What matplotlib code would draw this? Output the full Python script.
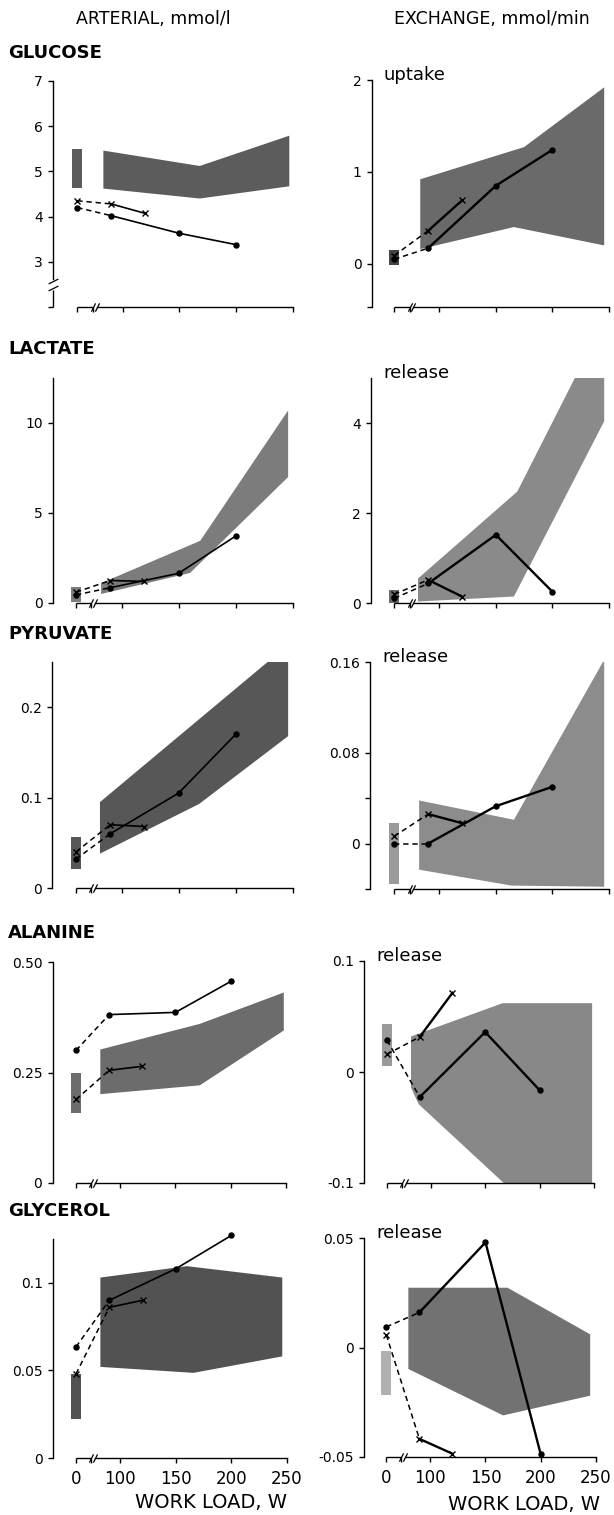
import matplotlib
matplotlib.use("Agg")
import matplotlib.pyplot as plt

plt.rcParams['font.family'] = ['DejaVu Sans']

W_PX, H_PX = 614, 1515

# work loads (W); the resting value (0 W) sits on the broken part of the axis
loads_dot = [0, 90, 150, 200]
loads_cross = [0, 90, 120]
x_ticks = [0, 100, 150, 200, 250]

# ---------------- data ----------------
# rest range (lo, hi), band upper / lower edges as (W, value), dot series, cross series
glucose_art_rest = (4.63, 5.50)
glucose_art_upper = [(83, 5.46), (168, 5.12), (247, 5.79)]
glucose_art_lower = [(83, 4.62), (168, 4.40), (247, 4.67)]
glucose_art_dot = [4.20, 4.02, 3.63, 3.38]
glucose_art_cross = [4.35, 4.28, 4.07]

glucose_ex_rest = (-0.01, 0.15)
glucose_ex_upper = [(83, 0.92), (175, 1.27), (246, 1.92)]
glucose_ex_lower = [(83, 0.16), (166, 0.40), (246, 0.20)]
glucose_ex_dot = [0.05, 0.17, 0.85, 1.24]
glucose_ex_cross = [0.09, 0.36, 0.69]

lactate_art_rest = (0.07, 0.90)
lactate_art_upper = [(82, 1.1), (169, 3.46), (246, 10.7)]
lactate_art_lower = [(82, 0.5), (160, 1.67), (246, 7.0)]
lactate_art_dot = [0.45, 0.85, 1.65, 3.72]
lactate_art_cross = [0.6, 1.25, 1.2]

lactate_ex_rest = (0.0, 0.30)
lactate_ex_upper = [(81, 0.55), (169, 2.48), (220, 5.0), (246, 5.0)]
lactate_ex_lower = [(81, 0.04), (166, 0.15), (246, 4.04)]
lactate_ex_dot = [0.11, 0.44, 1.52, 0.26]
lactate_ex_cross = [0.20, 0.52, 0.15]

pyruvate_art_rest = (0.021, 0.056)
pyruvate_art_upper = [(81, 0.095), (246, 0.269)]
pyruvate_art_lower = [(81, 0.038), (168, 0.093), (246, 0.168)]
pyruvate_art_dot = [0.032, 0.060, 0.105, 0.170]
pyruvate_art_cross = [0.040, 0.070, 0.068]

pyruvate_ex_rest = (-0.036, 0.018)
pyruvate_ex_upper = [(82, 0.038), (166, 0.021), (246, 0.162)]
pyruvate_ex_lower = [(82, -0.023), (164, -0.037), (246, -0.038)]
pyruvate_ex_dot = [0.0, 0.0, 0.033, 0.050]
pyruvate_ex_cross = [0.0065, 0.026, 0.018]

alanine_art_rest = (0.158, 0.249)
alanine_art_upper = [(82, 0.302), (172, 0.36), (248, 0.431)]
alanine_art_lower = [(82, 0.201), (172, 0.221), (248, 0.345)]
alanine_art_dot = [0.300, 0.381, 0.386, 0.456]
alanine_art_cross = [0.189, 0.255, 0.264]

alanine_ex_rest = (0.005, 0.043)
alanine_ex_upper = [(82, 0.032), (166, 0.062), (248, 0.062)]
alanine_ex_lower = [(82, -0.014), (89, -0.029), (167, -0.1), (248, -0.1)]
alanine_ex_dot = [0.0286, -0.0226, 0.036, -0.0165]
alanine_ex_cross = [0.016, 0.0316, 0.0713]

glycerol_art_rest = (0.0225, 0.048)
glycerol_art_upper = [(82, 0.103), (160, 0.1095), (246, 0.103)]
glycerol_art_lower = [(82, 0.052), (166, 0.0486), (246, 0.058)]
glycerol_art_dot = [0.0634, 0.090, 0.108, 0.127]
glycerol_art_cross = [0.048, 0.086, 0.090]

glycerol_ex_rest = (-0.0215, -0.0015)
glycerol_ex_upper = [(80, 0.0273), (170, 0.0273), (245, 0.006)]
glycerol_ex_lower = [(80, -0.0098), (166, -0.031), (245, -0.022)]
glycerol_ex_dot = [0.0094, 0.016, 0.048, -0.0485]
glycerol_ex_cross = [0.0058, -0.0417, -0.0485]

row_names = ['GLUCOSE', 'LACTATE', 'PYRUVATE', 'ALANINE', 'GLYCEROL']
ex_labels = ['uptake', 'release', 'release', 'release', 'release']

# y axis: limits, tick values, tick labels
art_ylim = [(2, 7), (0, 12.5), (0, 0.25), (0, 0.5), (0, 0.125)]
art_yticks = [[2, 3, 4, 5, 6, 7], [0, 5, 10], [0, 0.1, 0.2], [0, 0.25, 0.5], [0, 0.05, 0.1]]
art_ylabels = [['', '3', '4', '5', '6', '7'], ['0', '5', '10'], ['0', '0.1', '0.2'],
               ['0', '0.25', '0.50'], ['0', '0.05', '0.1']]
ex_ylim = [(-0.47, 2.0), (0, 5.0), (-0.04, 0.16), (-0.1, 0.1), (-0.05, 0.05)]
ex_yticks = [[-0.47, 0, 1, 2], [0, 2, 4], [-0.04, 0, 0.04, 0.08, 0.16], [-0.1, 0, 0.1], [-0.05, 0, 0.05]]
ex_ylabels = [['', '0', '1', '2'], ['0', '2', '4'], ['', '0', '', '0.08', '0.16'],
              ['-0.1', '0', '0.1'], ['-0.05', '0', '0.05']]

# ---------------- layout (pixels): y spine, x of 0 W, x of 250 W, top, bottom ----------------
art_box = [(53.3, 77.3, 292.7, 81, 307), (53.3, 76, 292.7, 378, 603), (52.3, 76, 292.7, 662, 888),
           (52.7, 76, 286, 962, 1183), (53.3, 76, 286.7, 1239, 1458)]
ex_box = [(372, 394.3, 608.7, 80, 307), (371.3, 394.3, 608.7, 378, 603.3), (370.3, 394.3, 608.7, 662, 889),
          (364.3, 387, 594.3, 961, 1183), (364.3, 386.3, 595.7, 1238, 1457)]
row_label_y = [53.5, 349.5, 633.5, 933, 1211.5]

art_band_col = ['#5c5c5c', '#7c7c7c', '#575757', '#6c6c6c', '#525252']
ex_band_col = ['#6a6a6a', '#8a8a8a', '#8c8c8c', '#888888', '#727272']
ex_rest_col = ['#444444', '#6a6a6a', '#9a9a9a', '#9a9a9a', '#b0b0b0']

REST_X = 60      # plotted position of 0 W
SEG_END = 73.5   # end of the short axis piece
SEG_START = 77   # start of the main axis piece
slash = [(-1, -2), (1, 2)]


def pos(w):
    return REST_X if w == 0 else w


def fig_xy(x, y):
    return x / W_PX, 1 - y / H_PX


def make_axes(fig, box):
    spine, x0, x250, top, bot = box
    s = (x250 - x0) / (250 - REST_X)
    right = x250 + 5
    ax = fig.add_axes([spine / W_PX, 1 - bot / H_PX, (right - spine) / W_PX, (bot - top) / H_PX])
    ax.set_xlim(REST_X - (x0 - spine) / s, 250 + 5 / s)
    ax.patch.set_visible(False)
    return ax


def draw(ax, rest, upper, lower, dot, cross, ylim, yticks, ylabels, band_col, rest_col, lw, bottom_row):
    ylo, yhi = ylim
    ax.set_ylim(ylo, yhi)
    poly = upper + lower[::-1]
    ax.fill([p[0] for p in poly], [p[1] for p in poly], color=band_col, lw=0, zorder=1)
    ax.bar(REST_X, rest[1] - rest[0], bottom=rest[0], width=9, color=rest_col, lw=0, zorder=1)

    for xs, ys, mk, ms in [(loads_dot, dot, 'o', 3.6), (loads_cross, cross, 'x', 4.2)]:
        xp = [pos(x) for x in xs]
        ax.plot(xp[:2], ys[:2], color='k', lw=1.1, ls=(0, (3.5, 2.5)), zorder=3, clip_on=False)
        ax.plot(xp[1:], ys[1:], color='k', lw=lw, zorder=3, clip_on=False)
        ax.plot(xp, ys, ls='none', marker=mk, ms=ms, mew=1.0, color='k', zorder=4, clip_on=False)

    for side in ['top', 'right']:
        ax.spines[side].set_visible(False)
    ax.spines['left'].set_linewidth(1.0)
    ax.spines['bottom'].set_linewidth(1.0)
    ax.spines['bottom'].set_bounds(SEG_START, 250)
    ax.plot([REST_X, SEG_END], [ylo, ylo], color='k', lw=1.0, clip_on=False, solid_capstyle='butt')
    ax.plot([SEG_END, SEG_START], [ylo, ylo], ls='none', marker=slash, ms=6, mew=0.9,
            color='k', clip_on=False)

    ax.set_xticks([pos(x) for x in x_ticks] + [SEG_END])
    if bottom_row:
        ax.set_xticklabels([str(x) for x in x_ticks] + [''], fontsize=12)
    else:
        ax.set_xticklabels([''] * (len(x_ticks) + 1))
    ax.set_yticks(yticks)
    ax.set_yticklabels(ylabels, fontsize=10)
    ax.tick_params(axis='both', direction='out', length=3.5, width=1.0)
    ax.tick_params(axis='x', pad=5)
    ax.tick_params(axis='y', pad=4)


fig = plt.figure(figsize=(W_PX / 100, H_PX / 100), dpi=100)

art = [
    (glucose_art_rest, glucose_art_upper, glucose_art_lower, glucose_art_dot, glucose_art_cross),
    (lactate_art_rest, lactate_art_upper, lactate_art_lower, lactate_art_dot, lactate_art_cross),
    (pyruvate_art_rest, pyruvate_art_upper, pyruvate_art_lower, pyruvate_art_dot, pyruvate_art_cross),
    (alanine_art_rest, alanine_art_upper, alanine_art_lower, alanine_art_dot, alanine_art_cross),
    (glycerol_art_rest, glycerol_art_upper, glycerol_art_lower, glycerol_art_dot, glycerol_art_cross),
]
ex = [
    (glucose_ex_rest, glucose_ex_upper, glucose_ex_lower, glucose_ex_dot, glucose_ex_cross),
    (lactate_ex_rest, lactate_ex_upper, lactate_ex_lower, lactate_ex_dot, lactate_ex_cross),
    (pyruvate_ex_rest, pyruvate_ex_upper, pyruvate_ex_lower, pyruvate_ex_dot, pyruvate_ex_cross),
    (alanine_ex_rest, alanine_ex_upper, alanine_ex_lower, alanine_ex_dot, alanine_ex_cross),
    (glycerol_ex_rest, glycerol_ex_upper, glycerol_ex_lower, glycerol_ex_dot, glycerol_ex_cross),
]

for i in range(5):
    last = i == 4
    ax = make_axes(fig, art_box[i])
    draw(ax, *art[i], art_ylim[i], art_yticks[i], art_ylabels[i], art_band_col[i], art_band_col[i],
         1.2, last)
    if i == 0:
        # broken y axis for glucose
        ax.spines['left'].set_bounds(2.62, 7)
        xl = ax.get_xlim()[0]
        ax.plot([xl, xl], [2, 2.38], color='k', lw=1.0, clip_on=False, solid_capstyle='butt')
        ax.plot([xl, xl], [2.43, 2.57], ls='none', marker=[(-2, -1), (2, 1)], ms=7, mew=0.9,
                color='k', clip_on=False)

    ax = make_axes(fig, ex_box[i])
    draw(ax, *ex[i], ex_ylim[i], ex_yticks[i], ex_ylabels[i], ex_band_col[i], ex_rest_col[i],
         1.7, last)

    fig.text(*fig_xy(8, row_label_y[i]), row_names[i], fontsize=13, fontweight='bold',
             ha='left', va='center')
    fig.text(*fig_xy(ex_box[i][0] + 12, ex_box[i][3] - 5), ex_labels[i], fontsize=13,
             ha='left', va='center')

fig.text(*fig_xy(153, 19), 'ARTERIAL, mmol/l', fontsize=12.5, ha='center', va='center')
fig.text(*fig_xy(492, 19), 'EXCHANGE, mmol/min', fontsize=12.5, ha='center', va='center')
fig.text(*fig_xy(211, 1503), 'WORK LOAD, W', fontsize=14, ha='center', va='center')
fig.text(*fig_xy(524, 1504), 'WORK LOAD, W', fontsize=14, ha='center', va='center')

fig.savefig('out.png', dpi=100)
